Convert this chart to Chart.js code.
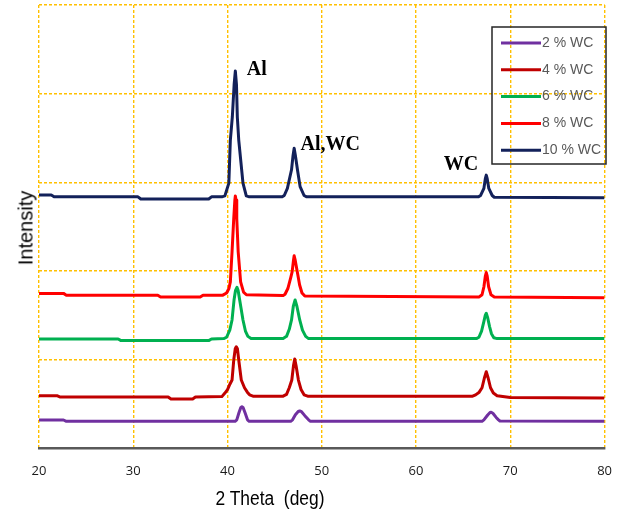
<!DOCTYPE html>
<html>
<head>
<meta charset="utf-8">
<script src="https://cdn.jsdelivr.net/npm/chart.js@4/dist/chart.umd.min.js"></script>
<style>
  html, body { margin: 0; padding: 0; background: #fff; }
  #wrap { position: relative; width: 627px; height: 515px; }
  #xTitle {
    position: absolute; left: 270px; top: 498px; transform: translate(-50%, -50%) scaleX(0.87);
    font: 20px "Liberation Sans", Arial, sans-serif; color: #000; white-space: nowrap;
  }
  #yTitle {
    position: absolute; left: 26px; top: 228px; transform: translate(-50%, -50%) rotate(-90deg);
    font: 20px "Liberation Sans", Arial, sans-serif; color: #000; white-space: nowrap;
  }
</style>
</head>
<body>
<div id="wrap">
  <canvas id="xrd" width="627" height="515"></canvas>
  <div id="xTitle">2 Theta&nbsp;&nbsp;(deg)</div>
  <div id="yTitle">Intensity</div>
</div>
<script>
// Series labels (legend order)
const seriesLabels = ["2 % WC", "4 % WC", "6 % WC", "8 % WC", "10 % WC"];
const seriesColors = ["#7030A0", "#C00000", "#00B050", "#FF0000", "#13215A"];

// Traced patterns: 2 theta (deg) / stacked intensity (a.u.)
const theta2 = [20, 22.6, 22.9, 40.8, 40.98, 41.22, 41.4, 41.53, 41.66, 41.85, 42.12, 42.3, 46.7, 46.9, 47.2, 47.5, 47.66, 47.85, 48.2, 48.6, 48.8, 67.0, 67.2, 67.6, 67.85, 67.97, 68.15, 68.5, 68.75, 68.9, 80];
const int2 = [0.316, 0.316, 0.301, 0.301, 0.318, 0.4, 0.455, 0.466, 0.455, 0.4, 0.318, 0.301, 0.301, 0.318, 0.375, 0.412, 0.418, 0.41, 0.365, 0.318, 0.301, 0.301, 0.318, 0.372, 0.4, 0.403, 0.392, 0.345, 0.318, 0.305, 0.301];

const theta4 = [20, 21.9, 22.2, 33.7, 34.0, 36.3, 36.6, 39.4, 39.7, 40.0, 40.25, 40.48, 40.66, 40.82, 40.93, 41.05, 41.19, 41.46, 41.8, 42.1, 42.34, 42.7, 45.9, 46.26, 46.55, 46.82, 47.0, 47.13, 47.27, 47.52, 47.8, 48.12, 48.5, 66.0, 66.32, 66.7, 67.0, 67.25, 67.45, 67.65, 67.9, 68.2, 68.6, 70, 80];
const int4 = [0.59, 0.59, 0.576, 0.576, 0.553, 0.553, 0.576, 0.58, 0.617, 0.66, 0.72, 0.767, 0.993, 1.12, 1.143, 1.12, 0.993, 0.767, 0.68, 0.63, 0.6, 0.585, 0.585, 0.605, 0.68, 0.767, 0.93, 1.004, 0.93, 0.767, 0.66, 0.6, 0.585, 0.585, 0.6, 0.63, 0.68, 0.79, 0.861, 0.79, 0.68, 0.62, 0.59, 0.57, 0.565];

const theta6 = [20, 28.4, 28.7, 38.0, 38.3, 39.6, 39.9, 40.24, 40.48, 40.69, 40.85, 41.0, 41.12, 41.29, 41.64, 41.9, 42.16, 42.5, 45.9, 46.26, 46.55, 46.79, 46.98, 47.17, 47.36, 47.66, 47.95, 48.29, 48.6, 66.4, 66.67, 66.95, 67.2, 67.35, 67.45, 67.6, 67.8, 68.0, 68.25, 68.6, 80];
const int6 = [1.23, 1.23, 1.212, 1.212, 1.23, 1.235, 1.25, 1.33, 1.445, 1.67, 1.78, 1.814, 1.78, 1.67, 1.445, 1.32, 1.26, 1.235, 1.235, 1.26, 1.34, 1.445, 1.6, 1.67, 1.6, 1.445, 1.33, 1.26, 1.235, 1.235, 1.25, 1.32, 1.43, 1.5, 1.52, 1.47, 1.37, 1.29, 1.245, 1.235, 1.235];

const theta8 = [20, 22.6, 22.9, 32.6, 32.9, 37.1, 37.4, 39.5, 39.9, 40.15, 40.3, 40.48, 40.66, 40.78, 40.83, 40.9, 40.98, 41.13, 41.39, 41.7, 42.0, 45.9, 46.1, 46.4, 46.7, 46.86, 47.0, 47.07, 47.18, 47.4, 47.65, 47.9, 48.2, 66.7, 67.0, 67.2, 67.35, 67.45, 67.55, 67.7, 67.95, 68.3, 80];
const int8 = [1.745, 1.745, 1.725, 1.725, 1.705, 1.705, 1.725, 1.725, 1.75, 1.8, 1.875, 2.215, 2.59, 2.8, 2.845, 2.8, 2.59, 2.215, 1.875, 1.76, 1.73, 1.72, 1.735, 1.8, 1.92, 1.99, 2.12, 2.17, 2.12, 1.99, 1.84, 1.75, 1.715, 1.705, 1.73, 1.82, 1.94, 1.98, 1.94, 1.82, 1.73, 1.705, 1.695];

const theta10 = [20, 21.3, 21.6, 30.5, 30.8, 38.0, 38.3, 39.4, 39.72, 40.14, 40.3, 40.51, 40.7, 40.83, 40.95, 41.04, 41.19, 41.64, 41.99, 42.3, 45.8, 46.02, 46.35, 46.6, 46.79, 46.95, 47.07, 47.2, 47.42, 47.7, 48.12, 48.4, 66.6, 66.85, 67.2, 67.35, 67.45, 67.55, 67.72, 68.08, 68.3, 80];
const int10 = [2.855, 2.855, 2.835, 2.835, 2.81, 2.81, 2.835, 2.835, 2.845, 2.99, 3.476, 3.736, 4.1, 4.255, 4.1, 3.736, 3.476, 2.99, 2.845, 2.835, 2.835, 2.85, 2.93, 3.05, 3.14, 3.3, 3.383, 3.3, 3.14, 2.95, 2.85, 2.835, 2.835, 2.85, 2.93, 3.04, 3.08, 3.04, 2.93, 2.85, 2.83, 2.825];

// Axis ticks
const xTicks = [20, 30, 40, 50, 60, 70, 80];
const yTicks = [0, 1, 2, 3, 4, 5];

// Peak labels: text, 2 theta, intensity
const peakText = ["Al", "Al,WC", "WC"];
const peakTheta = [42.05, 47.75, 62.95];
const peakInt = [4.27, 3.42, 3.2];

const seriesX = [theta2, theta4, theta6, theta8, theta10];
const seriesY = [int2, int4, int6, int8, int10];

const datasets = seriesLabels.map((label, i) => ({
  label,
  data: seriesX[i].map((x, j) => ({ x, y: seriesY[i][j] })),
  borderColor: seriesColors[i],
  backgroundColor: seriesColors[i],
  borderWidth: 3,
  pointRadius: 0,
  tension: 0,
  borderJoinStyle: "round",
  fill: false
}));

// Peak annotation plugin
const peakLabels = {
  id: "peakLabels",
  afterDatasetsDraw(chart) {
    const { ctx, scales } = chart;
    ctx.save();
    ctx.font = "bold 20px 'Liberation Serif', 'Times New Roman', serif";
    ctx.fillStyle = "#000";
    ctx.textAlign = "left";
    ctx.textBaseline = "middle";
    peakText.forEach((t, i) => {
      ctx.fillText(t, scales.x.getPixelForValue(peakTheta[i]), scales.y.getPixelForValue(peakInt[i]));
    });
    ctx.restore();
  }
};

// Boxed legend inside the plot, top right
const boxLegend = {
  id: "boxLegend",
  afterDraw(chart) {
    const { ctx } = chart;
    const left = 492, top = 27, w = 114, h = 137;
    ctx.save();
    ctx.strokeStyle = "#262626";
    ctx.lineWidth = 1.5;
    ctx.strokeRect(left, top, w, h);
    ctx.font = "14px 'Liberation Sans', Arial, sans-serif";
    ctx.fillStyle = "#595959";
    ctx.textBaseline = "middle";
    chart.data.datasets.forEach((ds, i) => {
      const y = 43 + i * 26.8;
      ctx.strokeStyle = ds.borderColor;
      ctx.lineWidth = 3;
      ctx.beginPath();
      ctx.moveTo(501, y);
      ctx.lineTo(541, y);
      ctx.stroke();
      ctx.fillText(ds.label, 542, y);
    });
    ctx.restore();
  }
};

new Chart(document.getElementById("xrd"), {
  type: "line",
  data: { datasets },
  options: {
    responsive: false,
    animation: false,
    devicePixelRatio: 1,
    layout: { padding: { left: 39, right: 17, top: 5, bottom: 0 } },
    plugins: { legend: { display: false }, tooltip: { enabled: false } },
    scales: {
      x: {
        type: "linear",
        min: 20, max: 80,
        afterBuildTicks: (s) => { s.ticks = xTicks.map(v => ({ value: v })); },
        afterFit: (s) => { s.height = 67; },
        ticks: { padding: 15, color: "#1a1a1a", font: { family: "'Open Sans', sans-serif", size: 13 } },
        grid: { color: "#FFC000", lineWidth: 1.4, drawTicks: false },
        border: { display: true, color: "#595959", width: 2.5, dash: [3, 2] }
      },
      y: {
        type: "linear",
        min: 0, max: 5,
        afterBuildTicks: (s) => { s.ticks = yTicks.map(v => ({ value: v })); },
        afterFit: (s) => { s.width = 0; },
        ticks: { display: false },
        grid: { color: "#FFC000", lineWidth: 1.4, drawTicks: false },
        border: { display: false, dash: [3, 2] }
      }
    }
  },
  plugins: [peakLabels, boxLegend]
});
</script>
</body>
</html>
